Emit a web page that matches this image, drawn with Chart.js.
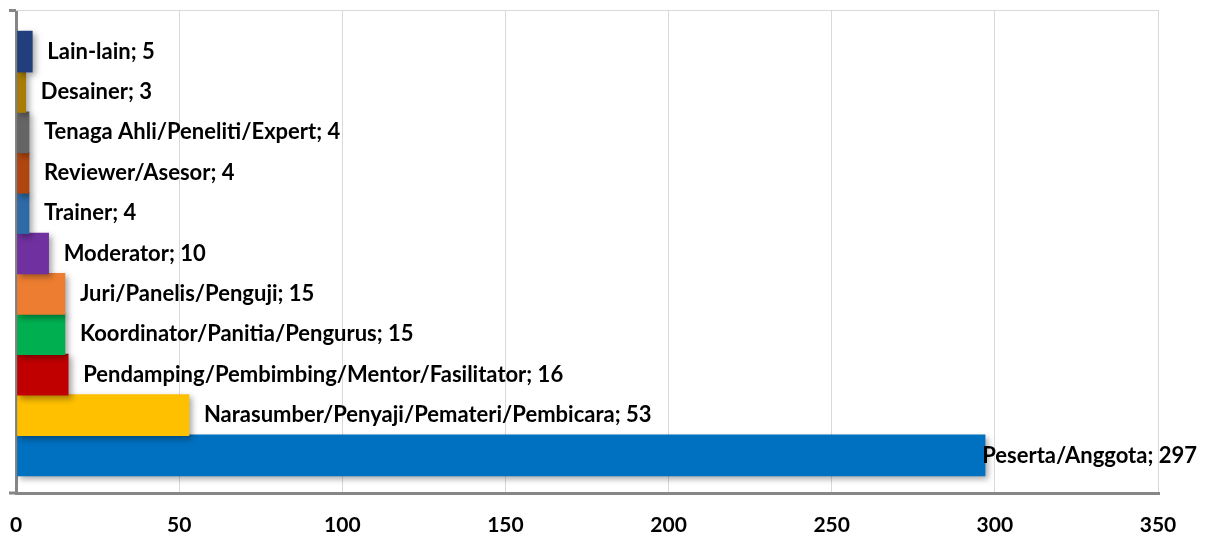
<!DOCTYPE html>
<html>
<head>
<meta charset="utf-8">
<script src="https://cdn.jsdelivr.net/npm/chart.js@4/dist/chart.umd.min.js"></script>
<style>
html,body{margin:0;padding:0;background:#fff;}
#wrap{width:1211px;height:541px;position:relative;}
</style>
</head>
<body>
<div id="wrap"><canvas id="c"></canvas></div>
<script>
const categories = ['Peserta/Anggota', 'Narasumber/Penyaji/Pemateri/Pembicara', 'Pendamping/Pembimbing/Mentor/Fasilitator', 'Koordinator/Panitia/Pengurus', 'Juri/Panelis/Penguji', 'Moderator', 'Trainer', 'Reviewer/Asesor', 'Tenaga Ahli/Peneliti/Expert', 'Desainer', 'Lain-lain'];
const values = [297, 53, 16, 15, 15, 10, 4, 4, 4, 3, 5];
const barColors = ['#0070c0', '#ffc000', '#c00000', '#00b050', '#ed7d31', '#7030a0', '#2e6aa6', '#b0460f', '#656565', '#a87c06', '#203f7c'];
const xTickValues = [0, 50, 100, 150, 200, 250, 300, 350];

const FONT = 'Lato, "Open Sans", sans-serif';

const decor = {
  id: 'decor',
  beforeDatasetsDraw(chart) {
    const ctx = chart.ctx, a = chart.chartArea;
    ctx.save();
    ctx.strokeStyle = '#d9d9d9';
    ctx.lineWidth = 1;
    ctx.beginPath();
    ctx.moveTo(a.left, a.top + 0.5);
    ctx.lineTo(a.right, a.top + 0.5);
    ctx.stroke();
    ctx.strokeStyle = '#868686';
    ctx.lineWidth = 3;
    ctx.beginPath();
    ctx.moveTo(a.left - 7, a.top + 0.5);
    ctx.lineTo(a.left, a.top + 0.5);
    ctx.moveTo(a.left - 7, a.bottom);
    ctx.lineTo(a.left, a.bottom);
    ctx.stroke();
    ctx.restore();
    ctx.save();
    ctx.shadowColor = 'rgba(0,0,0,0.35)';
    ctx.shadowBlur = 6;
    ctx.shadowOffsetX = 3;
    ctx.shadowOffsetY = 3;
  },
  afterDatasetsDraw(chart) {
    const ctx = chart.ctx;
    ctx.restore();
    const meta = chart.getDatasetMeta(0);
    ctx.save();
    ctx.font = 'bold 22px ' + FONT;
    ctx.fillStyle = '#000';
    ctx.textBaseline = 'middle';
    meta.data.forEach((bar, i) => {
      const txt = categories[i] + '; ' + values[i];
      const w = ctx.measureText(txt).width;
      let x = bar.x + 15;
      if (x + w > 1197) x = 1197 - w;
      ctx.fillText(txt, x, bar.y);
    });
    ctx.restore();
  }
};

new Chart(document.getElementById('c'), {
  type: 'bar',
  data: {
    datasets: [{
      data: values.map((v, i) => ({ x: v, y: i })),
      backgroundColor: barColors,
      borderWidth: 0,
      barThickness: 41
    }]
  },
  options: {
    indexAxis: 'y',
    responsive: true,
    maintainAspectRatio: false,
    animation: false,
    layout: { padding: { left: 16, top: 10, right: 53, bottom: 4 } },
    plugins: { legend: { display: false }, tooltip: { enabled: false } },
    scales: {
      x: {
        type: 'linear',
        min: 0,
        max: 350,
        afterBuildTicks(scale) { scale.ticks = xTickValues.map(v => ({ value: v })); },
        afterFit(scale) { scale.height = 44; scale.paddingLeft = 0; scale.paddingRight = 0; },
        grid: {
          color: c => (c.tick && c.tick.value === 0) ? '#868686' : '#d9d9d9',
          lineWidth: c => (c.tick && c.tick.value === 0) ? 3 : 1,
          tickLength: 0
        },
        border: { color: '#868686', width: 3 },
        ticks: {
          color: '#000',
          padding: 20,
          font: { family: FONT, size: 21, weight: 'bold' },
          maxRotation: 0
        }
      },
      y: {
        type: 'linear',
        display: false,
        offset: false,
        grid: { offset: false },
        bounds: 'data',
        min: -0.93,
        max: 11.03
      }
    }
  },
  plugins: [decor]
});
</script>
</body>
</html>
